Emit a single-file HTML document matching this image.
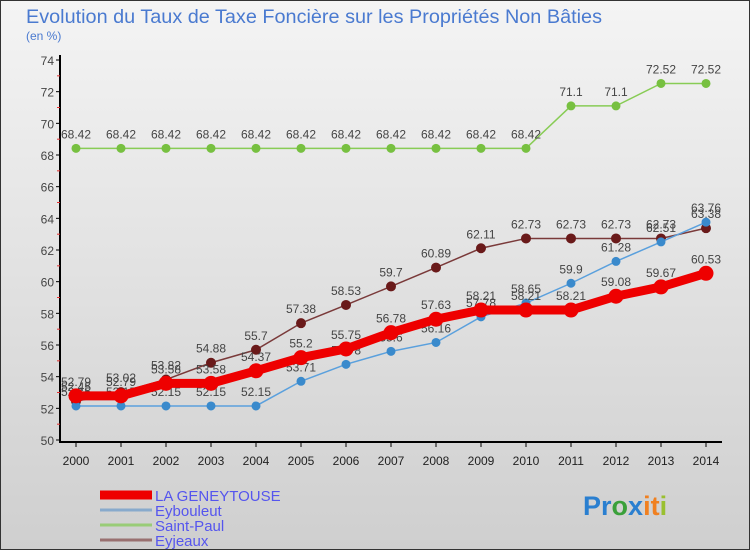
<!DOCTYPE html>
<html><head><meta charset="utf-8"><style>
body{margin:0;width:750px;height:550px;overflow:hidden;font-family:"Liberation Sans",sans-serif}
</style></head><body>
<svg id="c" width="750" height="550" xmlns="http://www.w3.org/2000/svg">
<defs><linearGradient id="bg" x1="0" y1="0" x2="0" y2="1"><stop offset="0" stop-color="#f4f4f4"/><stop offset="1" stop-color="#cfcfcf"/></linearGradient></defs>
<rect x="0.5" y="0.5" width="749" height="549" fill="url(#bg)" stroke="#333"/>
<text x="26" y="23" font-size="19" fill="#4a7ad0" textLength="576" lengthAdjust="spacingAndGlyphs">Evolution du Taux de Taxe Foncière sur les Propriétés Non Bâties</text>
<text x="26" y="40" font-size="12" fill="#4a7ad0">(en %)</text>
<g id="axes"></g><g id="series"></g><g id="legend"></g>
<text x="583" y="515" font-size="27" font-weight="bold"><tspan fill="#2a7fd0">Pr</tspan><tspan fill="#3aa03a">o</tspan><tspan fill="#2a7fd0">x</tspan><tspan fill="#f08020">it</tspan><tspan fill="#9ac030">i</tspan></text>
</svg>
<script>
const years=[2000,2001,2002,2003,2004,2005,2006,2007,2008,2009,2010,2011,2012,2013,2014];
const geney=[52.79,52.79,53.58,53.58,54.37,55.2,55.75,56.78,57.63,58.21,58.21,58.21,59.08,59.67,60.53];
const eyb=[52.15,52.15,52.15,52.15,52.15,53.71,54.78,55.6,56.16,57.78,58.65,59.9,61.28,62.51,63.76];
const stp=[68.42,68.42,68.42,68.42,68.42,68.42,68.42,68.42,68.42,68.42,68.42,71.1,71.1,72.52,72.52];
const eyj=[52.45,53.02,53.82,54.88,55.7,57.38,58.53,59.7,60.89,62.11,62.73,62.73,62.73,62.73,63.38];
const yTicks=[50,52,54,56,58,60,62,64,66,68,70,72,74];
const names=["LA GENEYTOUSE","Eybouleut","Saint-Paul","Eyjeaux"];
const NS="http://www.w3.org/2000/svg";
const X=i=>76+i*45, Y=v=>440-(v-50)*15.833;
function mk(t,a,p){const e=document.createElementNS(NS,t);for(const k in a)e.setAttribute(k,a[k]);p.appendChild(e);return e;}
const ax=document.getElementById('axes');
const yl=mk('line',{x1:60,y1:55,x2:60,y2:443,stroke:'#000','stroke-width':2},ax);


const xl=mk('line',{x1:60,y1:442,x2:722,y2:442,stroke:'#000','stroke-width':2},ax);


yTicks.forEach(v=>{mk('line',{x1:56,y1:Y(v),x2:60,y2:Y(v),stroke:'#000'},ax);
 if(v<74)mk('line',{x1:57,y1:Y(v+1),x2:60,y2:Y(v+1),stroke:'#e03030'},ax);
 const t=mk('text',{x:54,y:Y(v)+5,'font-size':12,fill:'#444','text-anchor':'end'},ax);t.textContent=v;
 
 });
years.forEach((y,i)=>{mk('line',{x1:X(i),y1:442,x2:X(i),y2:447,stroke:'#000'},ax);
 const t=mk('text',{x:X(i),y:465,'font-size':12,fill:'#222','text-anchor':'middle'},ax);t.textContent=y;
 
 });
const sg=document.getElementById('series');
function draw(data,color,dot,w,r,name){
 const g=mk('g',{},sg);
 
 
 mk('polyline',{points:data.map((v,i)=>X(i)+','+Y(v)).join(' '),fill:'none',stroke:color,'stroke-width':w},g);
 data.forEach((v,i)=>{const c=mk('circle',{cx:X(i),cy:Y(v),r:r,fill:dot,stroke:dot},g);
  
  
  const t=mk('text',{x:X(i),y:Y(v)-10,'font-size':12,fill:'#444','text-anchor':'middle'},g);t.textContent=v;
  
  });
}
draw(stp,'#88cc55','#77c040',1.5,4,'series-saint-paul');
draw(eyj,'#7a3a3a','#6a1a1a',1.5,4.5,'series-eyjeaux');
draw(eyb,'#5aa0dd','#3a8acc',1.5,4,'series-eybouleut');
draw(geney,'#ee0000','#ee0000',9,7,'series-la-geneytouse');
const lg=document.getElementById('legend');
const lc=['#ee0000','#88aacc','#99cc77','#997070'],lw=[9,3,3,3];
names.forEach((n,i)=>{const yy=499+i*15;
 const l=mk('line',{x1:100,y1:yy-4,x2:152,y2:yy-4,stroke:lc[i],'stroke-width':lw[i]},lg);
 
 
 const t=mk('text',{x:155,y:yy+2,'font-size':15,fill:'#5555ee'},lg);t.textContent=n;
 
 });
</script>
</body></html>
